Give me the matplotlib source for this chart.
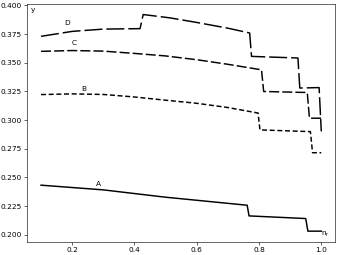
import matplotlib
matplotlib.use("Agg")
import matplotlib.pyplot as plt

# Curve A (solid)
xa = [0.1, 0.3, 0.5, 0.762, 0.768, 0.95, 0.957, 1.0]
ya = [0.2431, 0.2390, 0.2326, 0.2256, 0.2163, 0.2140, 0.2030, 0.2030]

# Curve B (short dashes)
xb = [0.1, 0.2, 0.3, 0.4, 0.5, 0.6, 0.7, 0.797, 0.803, 0.965, 0.972, 1.0]
yb = [0.3221, 0.3227, 0.3222, 0.3200, 0.3172, 0.3145, 0.3108, 0.3060,
      0.2913, 0.2898, 0.2714, 0.2714]

# Curve C (medium dashes)
xc = [0.1, 0.2, 0.3, 0.4, 0.5, 0.6, 0.7, 0.808, 0.815, 0.955, 0.962, 1.0]
yc = [0.3598, 0.3605, 0.3600, 0.3580, 0.3558, 0.3525, 0.3485, 0.3437,
      0.3248, 0.3239, 0.3015, 0.3015]

# Curve D (long dashes)
xd = [0.1, 0.2, 0.3, 0.418, 0.428, 0.514, 0.6, 0.7, 0.770, 0.776,
      0.925, 0.931, 0.993, 1.0]
yd = [0.3729, 0.3772, 0.3792, 0.3796, 0.3919, 0.3890, 0.3850, 0.3800,
      0.3758, 0.3554, 0.3540, 0.3278, 0.3282, 0.2900]

labels = ["A", "B", "C", "D"]
label_x = [0.283, 0.238, 0.206, 0.183]
label_y = [0.2445, 0.3274, 0.3670, 0.3851]

DPI = 53
fig = plt.figure(figsize=(339.3 / DPI, 255.3 / DPI), dpi=DPI)
ax = fig.add_axes([27 / 339, 1 - 242 / 255, (335 - 27) / 339, (242 - 4) / 255])

lw = 2.0
ax.plot(xa, ya, color="black", lw=lw, linestyle="-")
ax.plot(xb, yb, color="black", lw=lw, linestyle=(0, (3.4, 1.8)))
ax.plot(xc, yc, color="black", lw=lw, linestyle=(0, (6.8, 2.1)))
ax.plot(xd, yd, color="black", lw=lw, linestyle=(0, (12.2, 2.7)))

for lab, lx, ly in zip(labels, label_x, label_y):
    ax.text(lx, ly, lab, fontsize=10, ha="center", va="center")

ax.text(0.02, 0.975, "y", transform=ax.transAxes, fontsize=10, ha="center", va="center")
ax.text(0.968, 0.035, r"n$_{\rm r}$", transform=ax.transAxes, fontsize=10, ha="center", va="center")

ax.set_yticks([0.200, 0.225, 0.250, 0.275, 0.300, 0.325, 0.350, 0.375, 0.400])
ax.set_xticks([0.2, 0.4, 0.6, 0.8, 1.0])

fig.savefig("out.png", dpi=DPI)
